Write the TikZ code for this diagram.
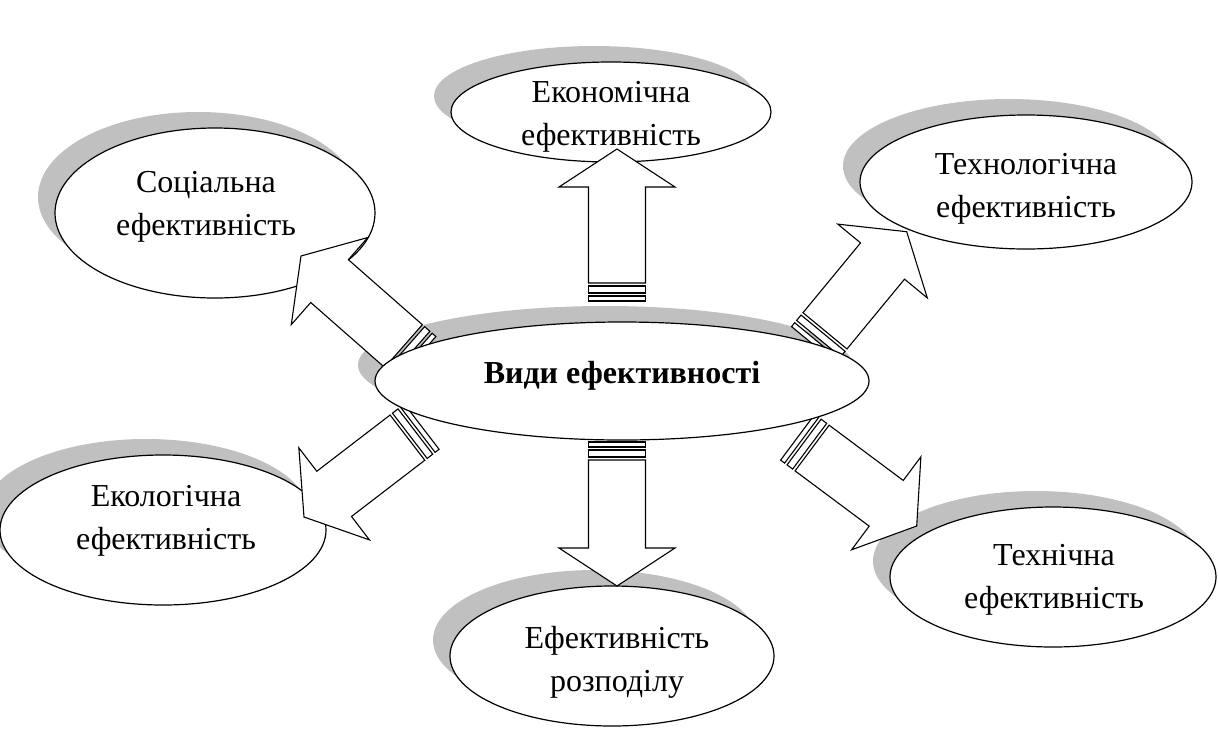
\documentclass[tikz,border=0pt]{standalone}
\usepackage{fontspec}
\setmainfont{Liberation Serif}
\usetikzlibrary{shapes.geometric}
\definecolor{shd}{RGB}{192,192,192}
\newcommand\stripearrow[3]{%
  \begin{scope}[shift={(#1)}, rotate=#2]
    \draw[blk] (-#3,-28.5) rectangle (-#3+5,28.5);
    \draw[blk] (-#3+8,-28.5) rectangle (-#3+15,28.5);
    \draw[blk] (-#3+18,-28.5) -- (-38,-28.5) -- (-38,-58) -- (0,0) -- (-38,58) -- (-38,28.5) -- (-#3+18,28.5) -- cycle;
  \end{scope}}
\begin{document}
\begin{tikzpicture}[x=1pt,y=-1pt,
  oval/.style={ellipse, draw=black, line width=1.2pt, fill=white, inner sep=0pt},
  shadowoval/.style={ellipse, fill=shd, inner sep=0pt},
  lbl/.style={font=\fontsize{32}{43}\selectfont, align=center, inner sep=0pt, anchor=base},
  blk/.style={draw=black, fill=white, line width=1.1pt, line join=miter}]
\useasboundingbox (0,0) rectangle (1218,729);
% shadows
\node[shadowoval, minimum width=320pt, minimum height=100pt] (econ-s) at (594,96) {};
\node[shadowoval, minimum width=320pt, minimum height=170pt] (soc-s) at (198,197) {};
\node[shadowoval, minimum width=332pt, minimum height=134pt] (tech-s) at (1009,166) {};
\node[shadowoval, minimum width=494pt, minimum height=118pt] (c-s) at (605,365) {};
\node[shadowoval, minimum width=326pt, minimum height=150pt] (eco-s) at (146,514) {};
\node[shadowoval, minimum width=324pt, minimum height=140pt] (dist-s) at (595,640) {};
\node[shadowoval, minimum width=326pt, minimum height=140pt] (tn-s) at (1036,561) {};
% outer ellipses
\node[oval, minimum width=320pt, minimum height=100pt] (econ) at (611,112) {};
\node[oval, minimum width=320pt, minimum height=170pt] (soc) at (215,213) {};
\node[oval, minimum width=332pt, minimum height=134pt] (tech) at (1026,182) {};
\node[oval, minimum width=326pt, minimum height=150pt] (eco) at (163,530) {};
\node[oval, minimum width=324pt, minimum height=140pt] (dist) at (612,656) {};
\node[oval, minimum width=326pt, minimum height=140pt] (tn) at (1053,577) {};
% arrow tips
\coordinate (tipE) at (617,149);
\coordinate (tipD) at (617,586);
\coordinate (tipS) at (301,256);
\coordinate (tipT) at (906.7,231.7);
\coordinate (tipEco) at (304,517);
\coordinate (tipTn) at (916.7,526);
\stripearrow{tipE}{90}{152}
\stripearrow{tipD}{-90}{144}
\stripearrow{tipS}{138.7}{154.5}
\stripearrow{tipT}{50.5}{146.5}
\stripearrow{tipEco}{217.5}{148.4}
\stripearrow{tipTn}{-36.7}{148.5}
% central
\node[oval, minimum width=494pt, minimum height=118pt] (c) at (622,381) {};
% labels (anchor base = baseline of the last line)
\node[lbl, font=\fontsize{32}{43}\selectfont\bfseries] (c-t) at (622,383) {Види ефективності};
\node[lbl] (econ-t) at (611,145) {Економічна\\ефективність};
\node[lbl] (soc-t) at (206,235) {Соціальна\\ефективність};
\node[lbl] (tech-t) at (1026,217) {Технологічна\\ефективність};
\node[lbl] (eco-t) at (166,549) {Екологічна\\ефективність};
\node[lbl] (dist-t) at (617,691) {Ефективність\\розподілу};
\node[lbl] (tn-t) at (1054,608) {Технічна\\ефективність};
\end{tikzpicture}
\end{document}
